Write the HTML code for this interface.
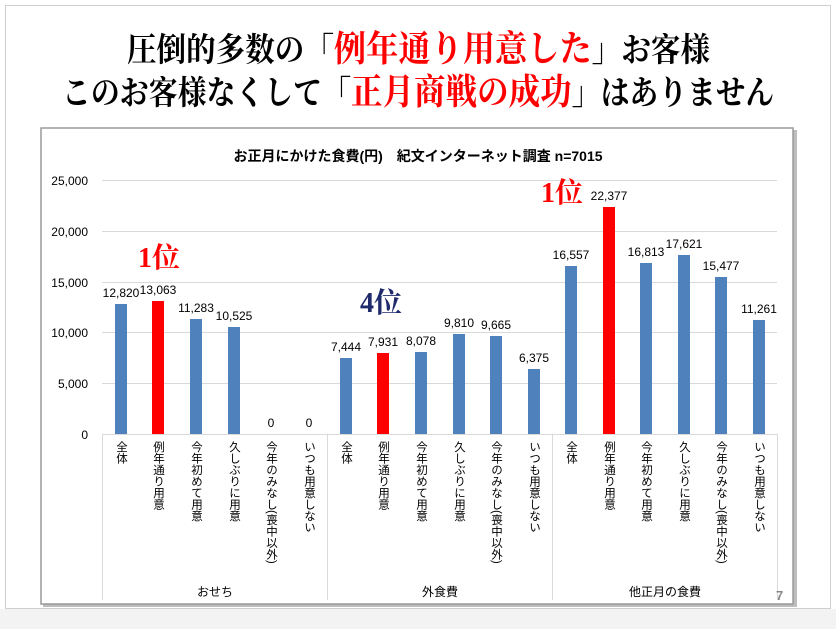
<!DOCTYPE html>
<html><head><meta charset="utf-8"><style>
body{margin:0;background:#fff;position:relative;width:836px;height:629px;overflow:hidden;}
svg{display:block;position:absolute;left:0;top:0;}
.v{position:absolute;top:441px;width:16px;writing-mode:vertical-rl;font-family:"Liberation Sans","Noto Sans CJK JP",sans-serif;font-size:11.5px;line-height:16px;white-space:nowrap;color:#000;}
</style></head><body>
<svg width="836" height="629" viewBox="0 0 836 629" xmlns="http://www.w3.org/2000/svg" font-family="'Liberation Sans','Noto Sans CJK JP',sans-serif">
<rect x="0" y="0" width="836" height="629" fill="#fff"/>
<rect x="5.5" y="5.5" width="825" height="603" fill="#fff" stroke="#cfcfcf"/>
<rect x="0" y="609" width="836" height="20" fill="#f3f3f3"/>
<g font-family="'Liberation Serif','Noto Serif CJK SC',serif" font-weight="bold">
<text x="127" y="61" font-size="33" textLength="583" lengthAdjust="spacingAndGlyphs">圧倒的多数の「<tspan fill="#f00" font-size="36">例年通り用意した</tspan>」お客様</text>
<text x="62" y="104" font-size="33" textLength="712" lengthAdjust="spacingAndGlyphs">このお客様なくして「<tspan fill="#f00" font-size="36">正月商戦の成功</tspan>」はありません</text>
</g>
<rect x="43" y="130" width="754" height="477" fill="#bdbdbd"/>
<rect x="41" y="128" width="752" height="476" fill="#fff" stroke="#9a9a9a" stroke-width="1.5"/>
<text x="418" y="161" font-size="14" font-weight="bold" text-anchor="middle">お正月にかけた食費(円)　紀文インターネット調査 n=7015</text>
<g stroke="#d9d9d9" stroke-width="1">
<line x1="102" y1="180.5" x2="777" y2="180.5"/>
<line x1="102" y1="231.5" x2="777" y2="231.5"/>
<line x1="102" y1="282.5" x2="777" y2="282.5"/>
<line x1="102" y1="332.5" x2="777" y2="332.5"/>
<line x1="102" y1="383.5" x2="777" y2="383.5"/>
<line x1="102" y1="434.5" x2="777" y2="434.5"/>
<line x1="102.5" y1="434" x2="102.5" y2="600"/>
<line x1="327.5" y1="434" x2="327.5" y2="600"/>
<line x1="552.5" y1="434" x2="552.5" y2="600"/>
<line x1="777.5" y1="434" x2="777.5" y2="600"/>
</g>
<g font-size="12" text-anchor="end">
<text x="88" y="185">25,000</text><text x="88" y="236">20,000</text><text x="88" y="287">15,000</text><text x="88" y="337">10,000</text><text x="88" y="388">5,000</text><text x="88" y="439">0</text>
</g>
<g font-size="12" text-anchor="middle">
<rect x="115" y="304" width="12" height="130" fill="#4f81bd"/><text x="121" y="297">12,820</text>
<rect x="152" y="301" width="12" height="133" fill="#f00"/><text x="158" y="294">13,063</text>
<rect x="190" y="319" width="12" height="115" fill="#4f81bd"/><text x="196" y="312">11,283</text>
<rect x="228" y="327" width="12" height="107" fill="#4f81bd"/><text x="234" y="320">10,525</text>
<text x="271" y="427">0</text>
<text x="309" y="427">0</text>
<rect x="340" y="358" width="12" height="76" fill="#4f81bd"/><text x="346" y="351">7,444</text>
<rect x="377" y="353" width="12" height="81" fill="#f00"/><text x="383" y="346">7,931</text>
<rect x="415" y="352" width="12" height="82" fill="#4f81bd"/><text x="421" y="345">8,078</text>
<rect x="453" y="334" width="12" height="100" fill="#4f81bd"/><text x="459" y="327">9,810</text>
<rect x="490" y="336" width="12" height="98" fill="#4f81bd"/><text x="496" y="329">9,665</text>
<rect x="528" y="369" width="12" height="65" fill="#4f81bd"/><text x="534" y="362">6,375</text>
<rect x="565" y="266" width="12" height="168" fill="#4f81bd"/><text x="571" y="259">16,557</text>
<rect x="603" y="207" width="12" height="227" fill="#f00"/><text x="609" y="200">22,377</text>
<rect x="640" y="263" width="12" height="171" fill="#4f81bd"/><text x="646" y="256">16,813</text>
<rect x="678" y="255" width="12" height="179" fill="#4f81bd"/><text x="684" y="248">17,621</text>
<rect x="715" y="277" width="12" height="157" fill="#4f81bd"/><text x="721" y="270">15,477</text>
<rect x="753" y="320" width="12" height="114" fill="#4f81bd"/><text x="759" y="313">11,261</text>
</g>
<g font-family="'Liberation Serif','Noto Serif CJK SC',serif" font-weight="bold" font-size="28">
<text x="138" y="267" fill="#f00">1位</text>
<text x="360" y="312" fill="#1f2a6b">4位</text>
<text x="541" y="202" fill="#f00">1位</text>
</g>
<g font-size="12" text-anchor="middle">
<text x="215" y="596">おせち</text><text x="440" y="596">外食費</text><text x="665" y="596">他正月の食費</text>
</g>
<text x="776" y="600" font-size="13" font-weight="bold" fill="#888">7</text>
</svg>
<div class="v" style="left:113px">全体</div><div class="v" style="left:150px">例年通り用意</div><div class="v" style="left:188px">今年初めて用意</div><div class="v" style="left:226px">久しぶりに用意</div><div class="v" style="left:263px">今年のみなし(喪中以外)</div><div class="v" style="left:301px">いつも用意しない</div>
<div class="v" style="left:338px">全体</div><div class="v" style="left:375px">例年通り用意</div><div class="v" style="left:413px">今年初めて用意</div><div class="v" style="left:451px">久しぶりに用意</div><div class="v" style="left:488px">今年のみなし(喪中以外)</div><div class="v" style="left:526px">いつも用意しない</div>
<div class="v" style="left:563px">全体</div><div class="v" style="left:601px">例年通り用意</div><div class="v" style="left:638px">今年初めて用意</div><div class="v" style="left:676px">久しぶりに用意</div><div class="v" style="left:713px">今年のみなし(喪中以外)</div><div class="v" style="left:751px">いつも用意しない</div>
</body></html>
